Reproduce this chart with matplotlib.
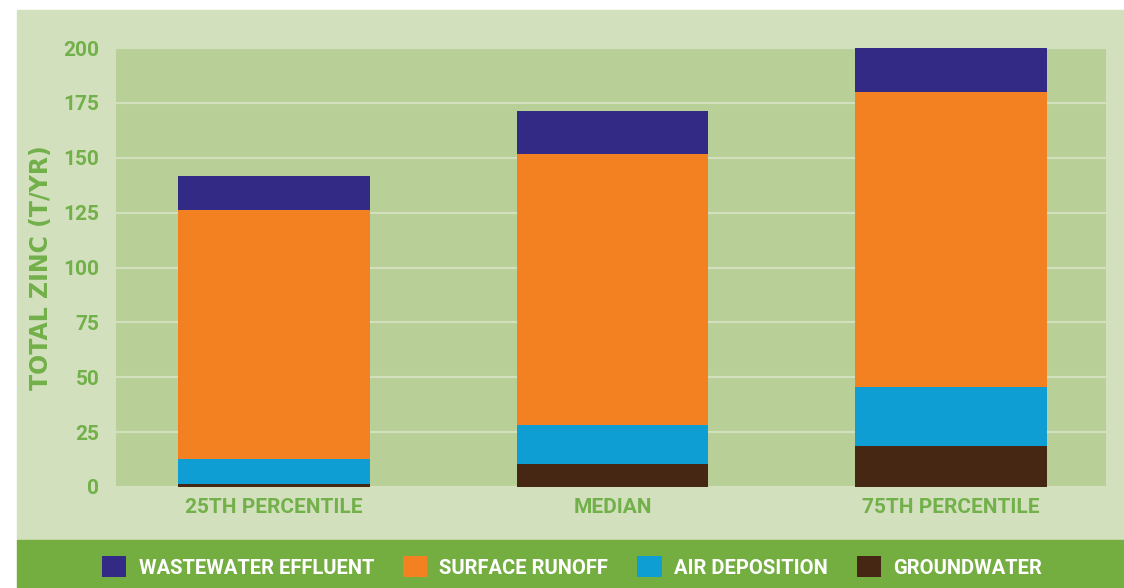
import matplotlib
matplotlib.use("Agg")
import matplotlib.pyplot as plt
import numpy as np
from matplotlib.patches import Rectangle, Patch

# data (t/yr)
categories = ["25TH PERCENTILE", "MEDIAN", "75TH PERCENTILE"]
groundwater = [1.5, 10.5, 18.5]
air_deposition = [11.3, 17.7, 27.0]
surface_runoff = [113.4, 123.5, 134.5]
wastewater = [15.5, 19.6, 20.0]
series_names = ["WASTEWATER EFFLUENT", "SURFACE RUNOFF", "AIR DEPOSITION", "GROUNDWATER"]
y_ticks = [0, 25, 50, 75, 100, 125, 150, 175, 200]

GREEN_TXT = "#72b04a"
PANEL = "#d3e0bd"
PLOT_BG = "#b8d098"
BAND = "#74ae41"
colors = {
    "WASTEWATER EFFLUENT": "#332a86",
    "SURFACE RUNOFF": "#f38121",
    "AIR DEPOSITION": "#0f9ed3",
    "GROUNDWATER": "#462713",
}

W, H = 1124, 588
fig = plt.figure(figsize=(W / 100, H / 100), dpi=100, facecolor="white")

# light panel and bottom legend band (behind the axes)
fig.patches.append(Rectangle((17 / W, 48 / H), 1 - 17 / W, (578 - 48) / H,
                             transform=fig.transFigure, color=PANEL, zorder=-2))
fig.patches.append(Rectangle((17 / W, 0), 1 - 17 / W, 48 / H,
                             transform=fig.transFigure, color=BAND, zorder=-2))

ax = fig.add_axes([116 / W, 101 / H, 990 / W, 439 / H])
ax.set_facecolor(PLOT_BG)

x = np.arange(len(categories))
width = 0.567
bottom = np.zeros(len(categories))
stack = [("GROUNDWATER", groundwater), ("AIR DEPOSITION", air_deposition),
         ("SURFACE RUNOFF", surface_runoff), ("WASTEWATER EFFLUENT", wastewater)]
for name, vals in stack:
    ax.bar(x, vals, width, bottom=bottom, color=colors[name], zorder=3, linewidth=0)
    bottom += np.array(vals)

ax.set_xlim(-0.467, 2.458)
ax.set_ylim(0, 200)
ax.set_yticks(y_ticks)
ax.set_xticks(x)
ax.set_xticklabels(categories)
ax.yaxis.grid(True, color=PANEL, linewidth=1.5, zorder=1)
ax.set_axisbelow(True)
for s in ax.spines.values():
    s.set_visible(False)
ax.tick_params(length=0)

tick_font = dict(family=["Roboto", "DejaVu Sans"],
                 weight="bold", size=15, color=GREEN_TXT)
for lab in ax.get_yticklabels():
    lab.set(**tick_font)
for lab in ax.get_xticklabels():
    lab.set(**tick_font)
ax.tick_params(axis="y", pad=12)
ax.tick_params(axis="x", pad=8)

fig.text(41 / W, 1 - 268 / H, "TOTAL ZINC (T/YR)", rotation=90, ha="center", va="center",
         family=["DejaVu Sans"], weight="bold", size=17, color=GREEN_TXT)

handles = [Patch(facecolor=colors[n], edgecolor="none", label=n) for n in series_names]
fig.legend(handles=handles, loc="center", bbox_to_anchor=(572 / W, 21 / H), ncol=4,
           frameon=False, handlelength=1.2, handleheight=1.2, handletextpad=0.6,
           columnspacing=1.45, borderaxespad=0,
           prop=dict(family=["Roboto", "DejaVu Sans"], weight="bold", size=14.5),
           labelcolor="white")

fig.savefig("out.png", dpi=100, facecolor="white")
